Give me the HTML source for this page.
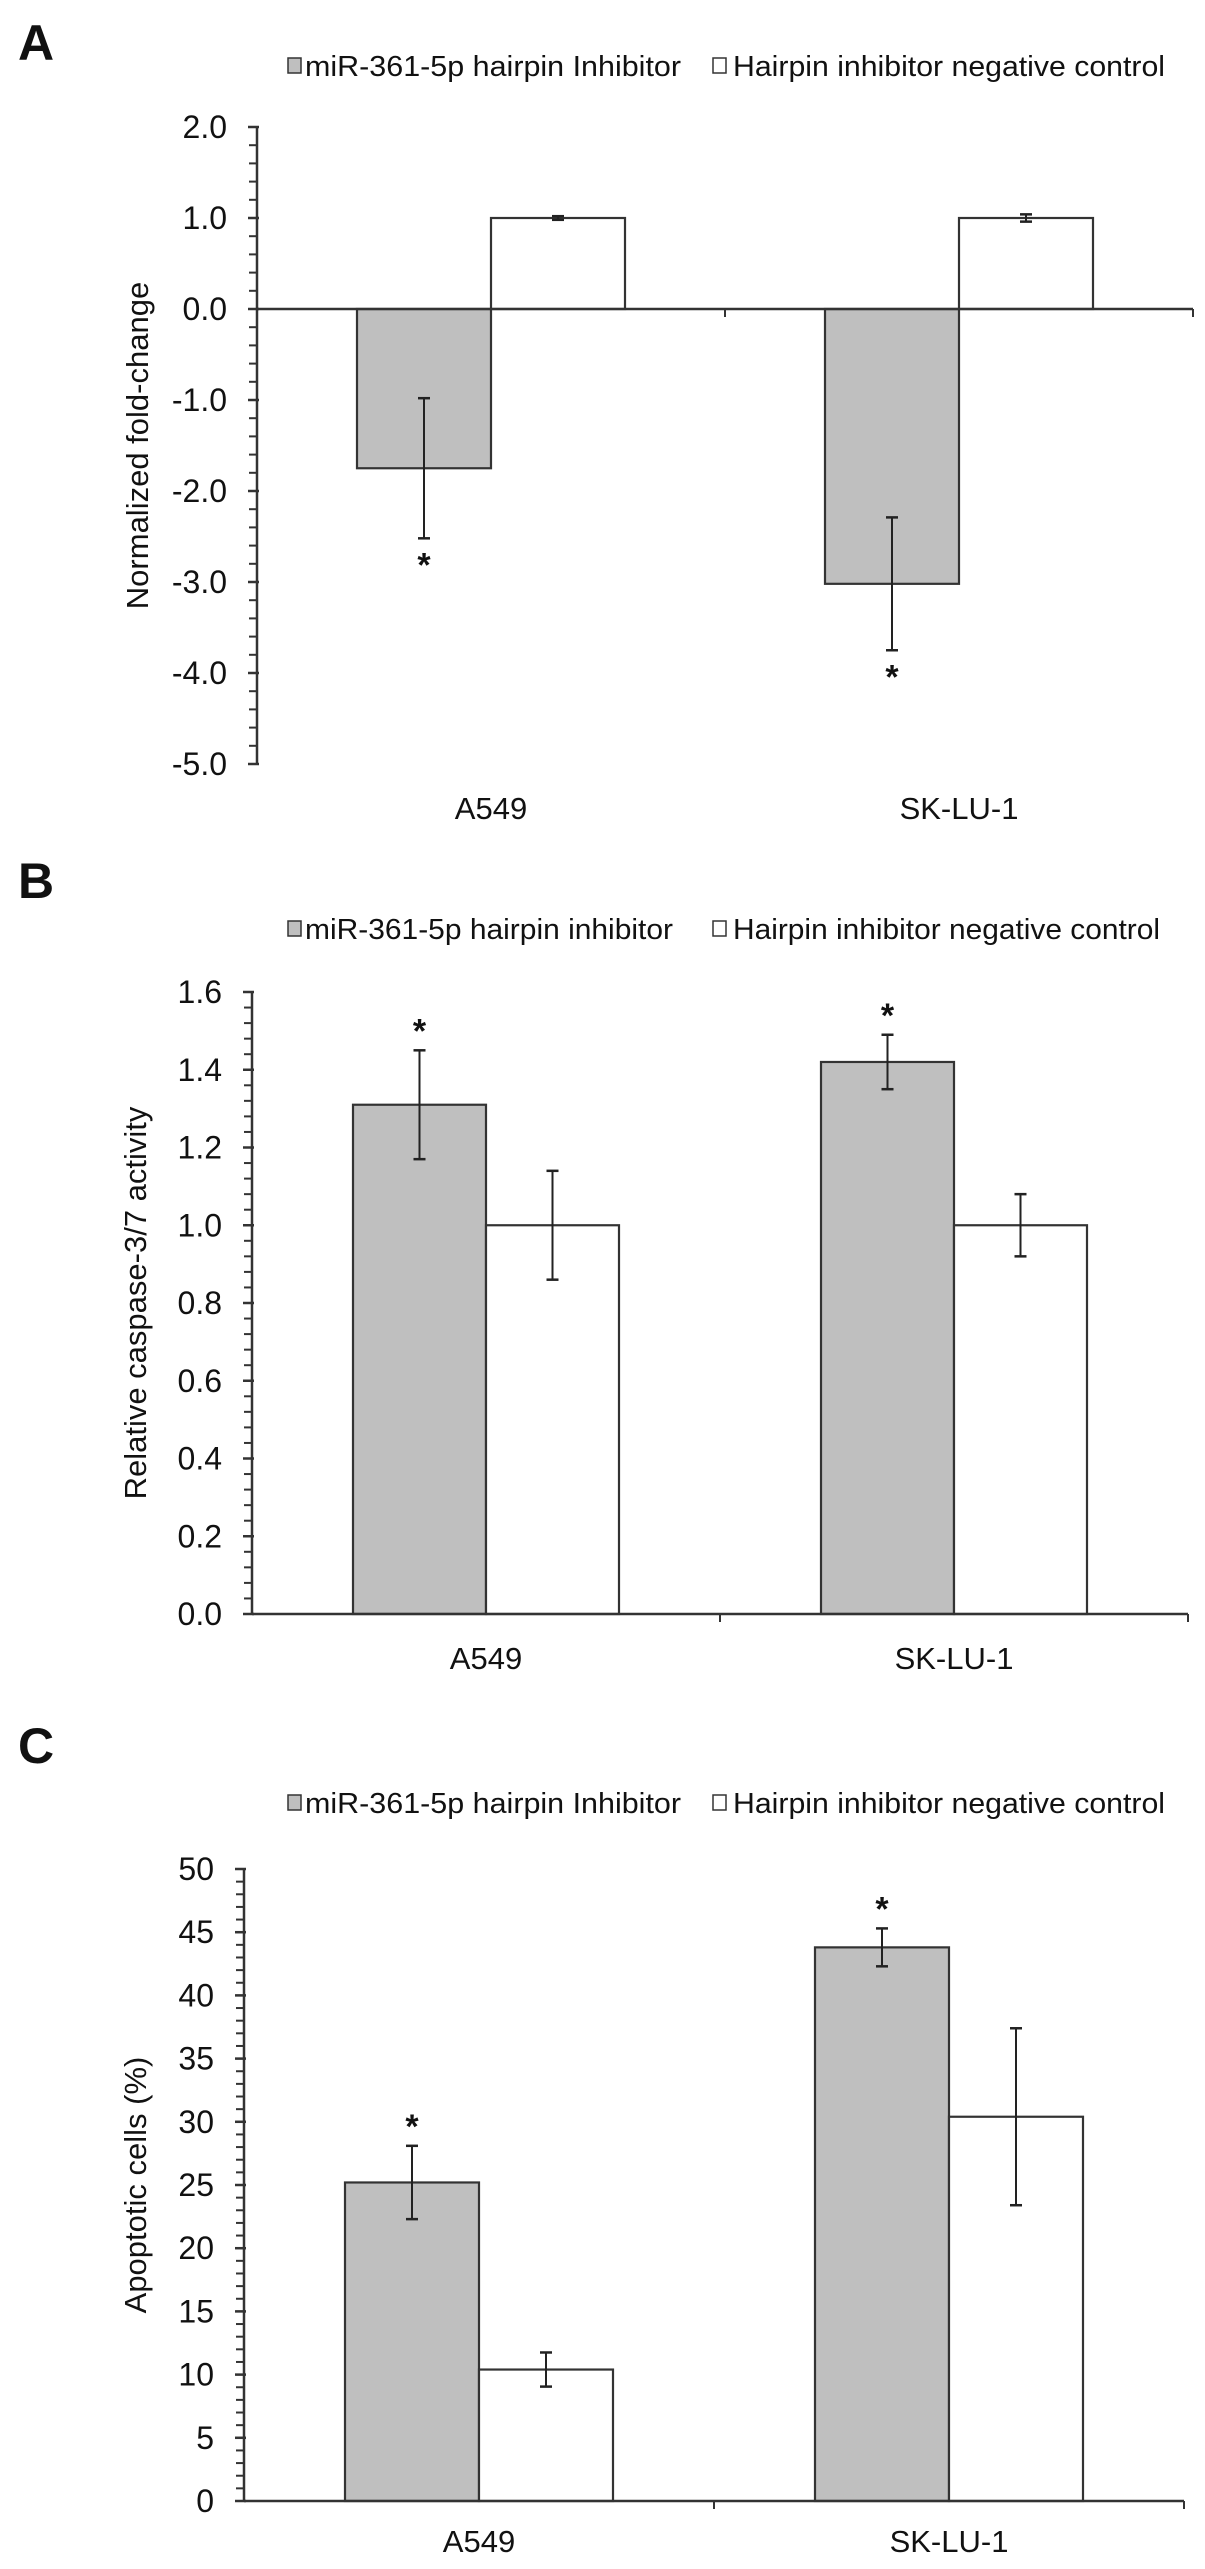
<!DOCTYPE html>
<html><head><meta charset="utf-8"><title>miR-361-5p figure</title>
<style>
html,body{margin:0;padding:0;background:#fff;}
svg{display:block;}
text{font-family:"Liberation Sans",Arial,sans-serif;fill:#111;}
</style></head>
<body>
<svg id="fig" width="1205" height="2569" viewBox="0 0 1205 2569" xmlns="http://www.w3.org/2000/svg"></svg>
<script>
// ---- shared data ----
const categories = ["A549", "SK-LU-1"];
const seriesNames = ["miR-361-5p hairpin inhibitor", "Hairpin inhibitor negative control"];

// Panel A: normalized fold-change
const aInhibitor = [-1.75, -3.02];
const aInhibitorErr = [0.77, 0.73];
const aControl = [1.0, 1.0];
const aControlErr = [0.02, 0.04];
const aTicks = ["2.0","1.0","0.0","-1.0","-2.0","-3.0","-4.0","-5.0"];
const aTickValues = [2,1,0,-1,-2,-3,-4,-5];

// Panel B: relative caspase-3/7 activity
const bInhibitor = [1.31, 1.42];
const bInhibitorErr = [0.14, 0.07];
const bControl = [1.0, 1.0];
const bControlErr = [0.14, 0.08];
const bTicks = ["1.6","1.4","1.2","1.0","0.8","0.6","0.4","0.2","0.0"];
const bTickValues = [1.6,1.4,1.2,1.0,0.8,0.6,0.4,0.2,0];

// Panel C: apoptotic cells (%)
const cInhibitor = [25.2, 43.8];
const cInhibitorErr = [2.9, 1.5];
const cControl = [10.4, 30.4];
const cControlErr = [1.35, 7.0];
const cTicks = ["50","45","40","35","30","25","20","15","10","5","0"];
const cTickValues = [50,45,40,35,30,25,20,15,10,5,0];

const NS = "http://www.w3.org/2000/svg";
const svg = document.getElementById("fig");
function mk(tag, attrs, parent){
  const e = document.createElementNS(NS, tag);
  for (const k in attrs) e.setAttribute(k, attrs[k]);
  (parent||svg).appendChild(e);
  return e;
}

function drawPanel(p){
  const g = mk("g", {});
  
  
  const y = v => p.y0 - (v - 0) * p.ppu;   // value -> pixel
  const catW = (p.xEnd - p.axisX) / categories.length;
  const cx = i => p.axisX + catW * (i + 0.5);
  const barW = p.barW;

  // panel letter
  const L = mk("text", {x:18, y:p.letterY, "font-size":50, "font-weight":"bold"}, g);
  L.textContent = p.letter;
  
  

  // legend
  const lg = mk("g", {}, g);
  
  
  const l1 = mk("rect", {x:288, y:p.legY-8, width:13, height:15, fill:"#bfbfbf", stroke:"#333", "stroke-width":1.5}, lg);
  
  
  const t1 = mk("text", {x:305, y:p.legY+10, "font-size":29, textLength:p.leg1W, lengthAdjust:"spacingAndGlyphs"}, lg);
  t1.textContent = p.leg1;
  
  
  const l2 = mk("rect", {x:713, y:p.legY-8, width:13, height:15, fill:"#fff", stroke:"#333", "stroke-width":1.5}, lg);
  
  
  const t2 = mk("text", {x:733, y:p.legY+10, "font-size":29, textLength:p.leg2W, lengthAdjust:"spacingAndGlyphs"}, lg);
  t2.textContent = seriesNames[1];
  
  

  // y axis
  const top = y(p.tickValues[0]), bot = y(p.tickValues[p.tickValues.length-1]);
  const ax = mk("line", {x1:p.axisX, y1:top, x2:p.axisX, y2:bot, stroke:"#333", "stroke-width":2.5}, g);
  
  
  // minor ticks
  const vMax = p.tickValues[0], vMin = p.tickValues[p.tickValues.length-1];
  const nMinor = Math.round((vMax - vMin) / p.minorStep);
  for (let k = 0; k <= nMinor; k++){
    const v = vMin + k * p.minorStep;
    const t = mk("line", {x1:p.axisX-8, y1:y(v), x2:p.axisX, y2:y(v), stroke:"#333", "stroke-width":2}, g);
    
    
  }
  p.tickValues.forEach((v, i) => {
    const t = mk("line", {x1:p.axisX-9, y1:y(v), x2:p.axisX+2, y2:y(v), stroke:"#333", "stroke-width":2.5}, g);
    
    
    const tl = mk("text", {x:p.axisX-30, y:y(v)+11, "font-size":32, "text-anchor":"end"}, g);
    tl.textContent = p.ticks[i];
    
    
  });
  // y title
  const yt = mk("text", {x:0, y:0, "font-size":31, "text-anchor":"middle",
    transform:`translate(${p.titleX},${(top+bot)/2}) rotate(-90)`}, g);
  yt.textContent = p.yTitle;
  
  

  // bars
  const series = [
    {vals:p.inh, errs:p.inhErr, fill:"#bfbfbf", off:-1, name:"inhibitor", star:true},
    {vals:p.ctl, errs:p.ctlErr, fill:"#ffffff", off:0, name:"control", star:false}
  ];
  series.forEach(s => {
    s.vals.forEach((v, i) => {
      const x0 = cx(i) + s.off * barW;
      const yv = y(v), y0 = y(0);
      const r = mk("rect", {x:x0, y:Math.min(yv,y0), width:barW, height:Math.abs(yv-y0), fill:s.fill, stroke:"#333", "stroke-width":2.2}, g);
      
      
    });
  });
  // x axis (zero line) drawn after bars
  const xa = mk("line", {x1:p.axisX, y1:y(0), x2:p.xEnd, y2:y(0), stroke:"#333", "stroke-width":2.5}, g);
  
  
  for (let i = 1; i <= categories.length; i++){
    const t = mk("line", {x1:p.axisX+catW*i, y1:y(0), x2:p.axisX+catW*i, y2:y(0)+8, stroke:"#333", "stroke-width":2}, g);
    
    
  }
  // error bars & stars
  series.forEach(s => {
    s.vals.forEach((v, i) => {
      const xc = cx(i) + s.off * barW + barW/2;
      const y1 = y(v + s.errs[i]), y2 = y(v - s.errs[i]);
      const eb = mk("g", {}, g);
      
      
      mk("line", {x1:xc, y1:y1, x2:xc, y2:y2, stroke:"#222", "stroke-width":2}, eb);
      mk("line", {x1:xc-6, y1:y1, x2:xc+6, y2:y1, stroke:"#222", "stroke-width":2.5}, eb);
      mk("line", {x1:xc-6, y1:y2, x2:xc+6, y2:y2, stroke:"#222", "stroke-width":2.5}, eb);
      if (s.star){
        const sy = v < 0 ? y2 + 38 : y1 - 8;
        const st = mk("text", {x:xc, y:sy, "font-size":34, "font-weight":"bold", "text-anchor":"middle"}, g);
        st.textContent = "*";
        
        
      }
    });
  });
  // category labels
  categories.forEach((c, i) => {
    const t = mk("text", {x:cx(i), y:p.catY, "font-size":31, "text-anchor":"middle"}, g);
    t.textContent = c;
    
    
  });
}

drawPanel({id:"panel-a", letter:"A", letterY:60, legY:66,
  leg1:"miR-361-5p hairpin Inhibitor", leg1W:376, leg2W:432,
  axisX:257, xEnd:1193, y0:309, ppu:91, barW:134, minorStep:0.2,
  ticks:aTicks, tickValues:aTickValues, yTitle:"Normalized fold-change", titleX:148,
  inh:aInhibitor, inhErr:aInhibitorErr, ctl:aControl, ctlErr:aControlErr, catY:819});

drawPanel({id:"panel-b", letter:"B", letterY:898, legY:929,
  leg1:"miR-361-5p hairpin inhibitor", leg1W:368, leg2W:427,
  axisX:252, xEnd:1188, y0:1614, ppu:388.75, barW:133, minorStep:0.04,
  ticks:bTicks, tickValues:bTickValues, yTitle:"Relative caspase-3/7 activity", titleX:146,
  inh:bInhibitor, inhErr:bInhibitorErr, ctl:bControl, ctlErr:bControlErr, catY:1669});

drawPanel({id:"panel-c", letter:"C", letterY:1763, legY:1803,
  leg1:"miR-361-5p hairpin Inhibitor", leg1W:376, leg2W:432,
  axisX:244, xEnd:1184, y0:2501, ppu:12.64, barW:134, minorStep:1,
  ticks:cTicks, tickValues:cTickValues, yTitle:"Apoptotic cells (%)", titleX:146,
  inh:cInhibitor, inhErr:cInhibitorErr, ctl:cControl, ctlErr:cControlErr, catY:2552});
</script>
</body></html>
